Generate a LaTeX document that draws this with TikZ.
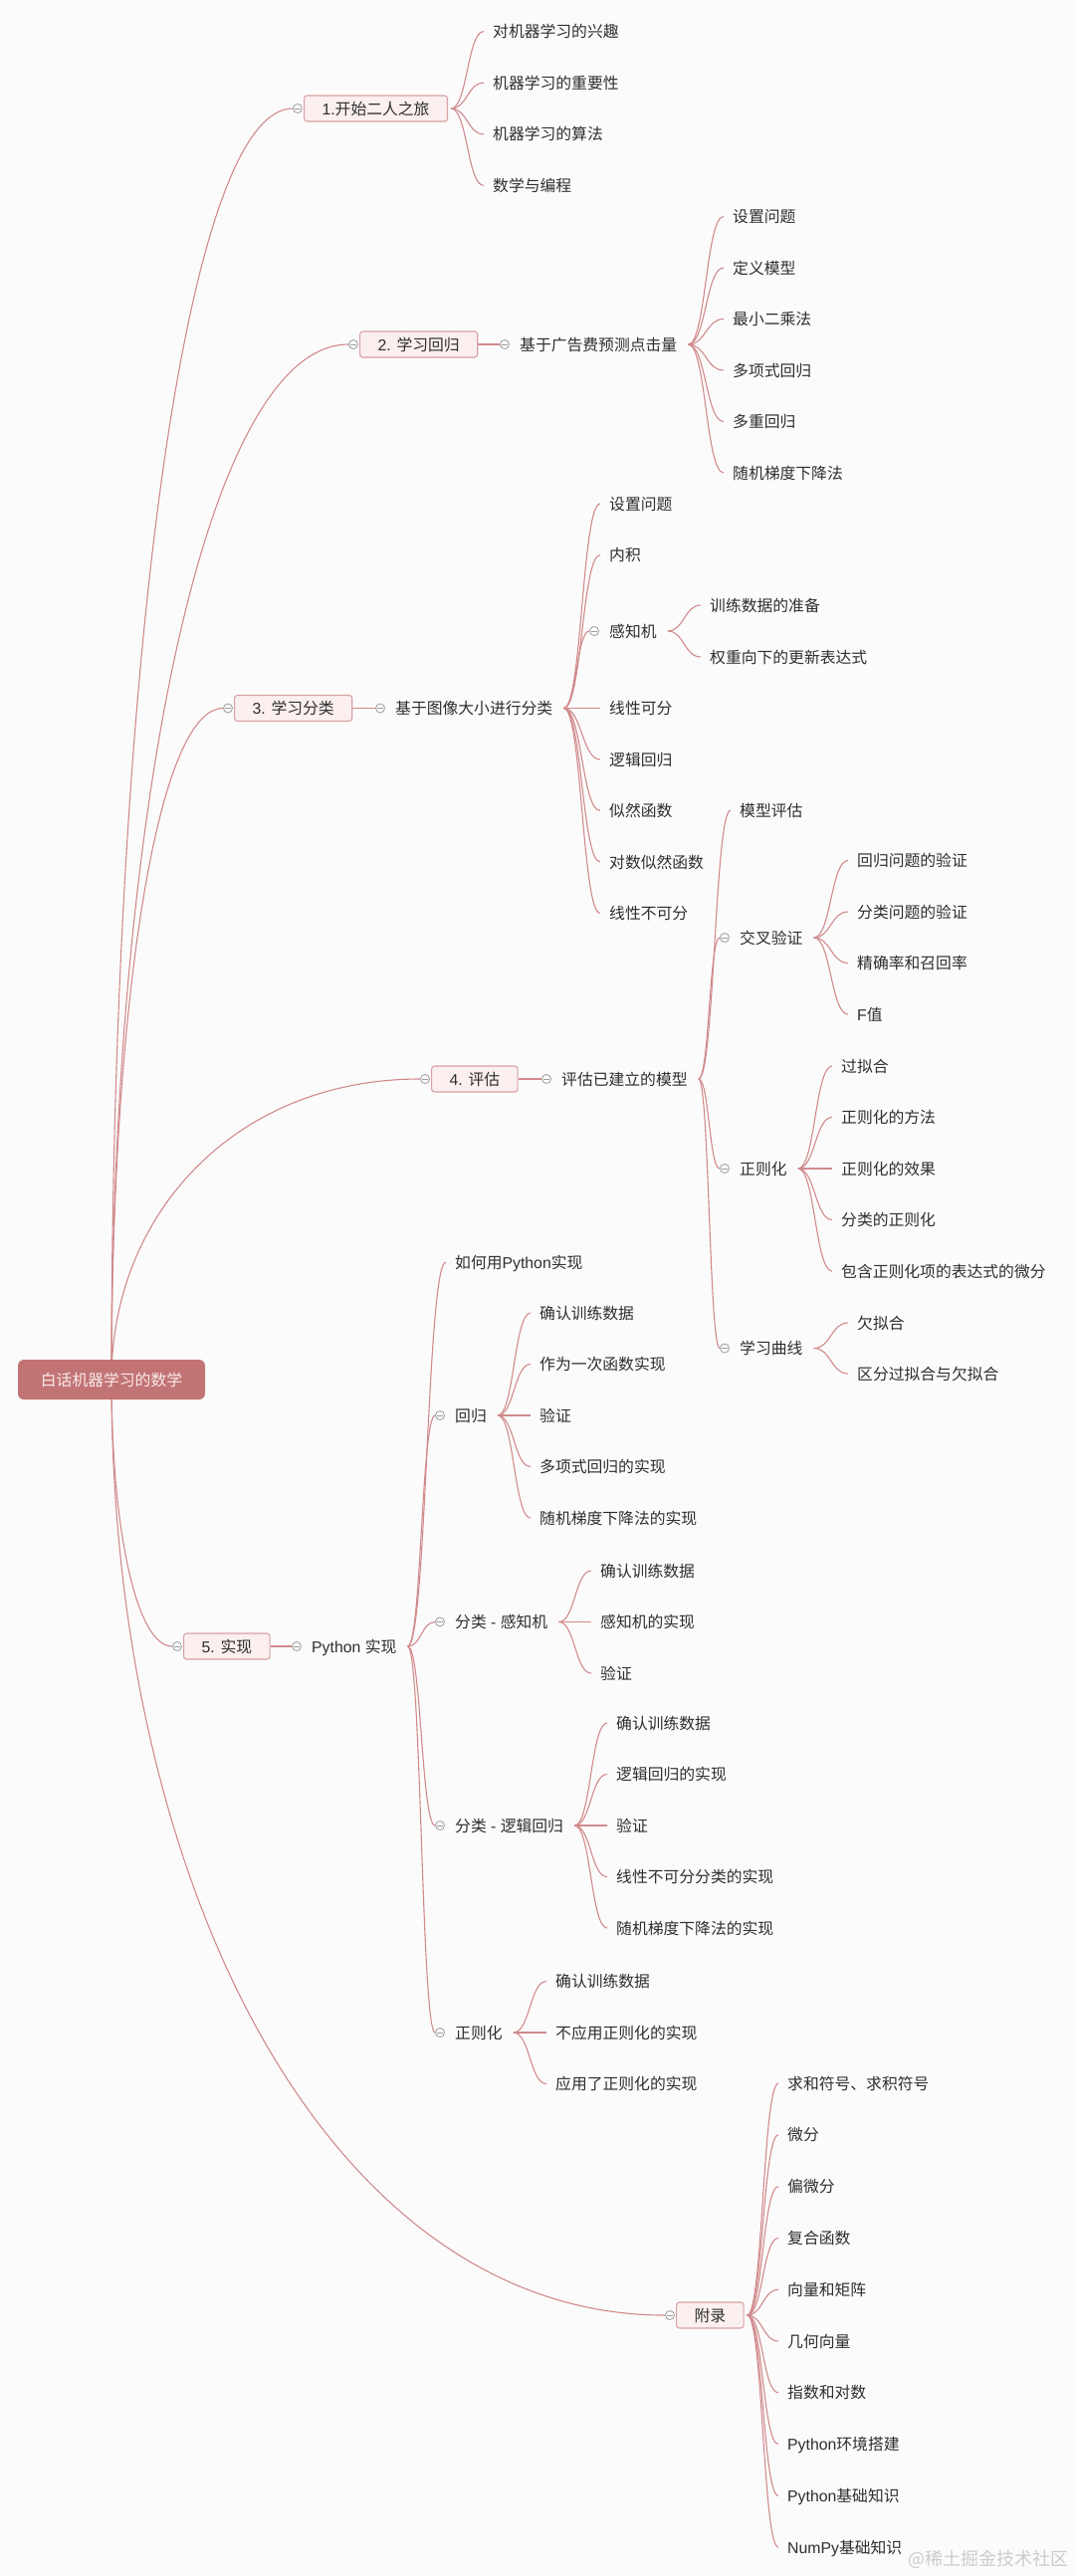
\documentclass[tikz,border=0pt]{standalone}
\usepackage{fontspec}
\setmainfont{Noto Sans CJK SC}
\newfontfamily\latf{Liberation Sans}
\newcommand\lat[1]{{\latf #1}}
\newcommand\fs{\fontsize{15.8pt}{18pt}\selectfont}
\usetikzlibrary{calc}
\definecolor{bgc}{HTML}{FCFBFB}
\definecolor{lc}{HTML}{D08A8C}
\definecolor{txt}{HTML}{2E2E2E}
\definecolor{bxd}{HTML}{D9A2A4}
\definecolor{bxf}{HTML}{FBEFEF}
\definecolor{rootf}{HTML}{C27474}
\definecolor{roott}{HTML}{FBEAEA}
\definecolor{btnc}{HTML}{9A9A9A}
\definecolor{wmc}{HTML}{CCCCCC}
\pgfdeclarelayer{back}\pgfdeclarelayer{wires}
\pgfsetlayers{back,wires,main}
\newcommand\lnk[2]{\begin{pgfonlayer}{wires}\draw[conn] let \p1=(#1), \p2=(#2), \n1={0.5*(\x2-\x1)} in (\p1) .. controls (\x1+\n1,\y1) and (\x2-\n1,\y2) .. (\p2);\end{pgfonlayer}}
\newcommand\rlnk[2]{\begin{pgfonlayer}{wires}\draw[conn] let \p1=(#1), \p2=(#2) in (\p1) .. controls (\x1,{\y1+0.55*(\y2-\y1)}) and ({\x2-0.6*(\x2-\x1)},\y2) .. (\p2);\end{pgfonlayer}}
\newcommand\tolf[2]{\lnk{#1}{$(#2.west)+(-9,0)$}}
\newcommand\tobt[2]{\lnk{#1}{b#2.west}}
\newcommand\bt[1]{\node[btn] (b#1) at ($(#1.west)+(-15,0)$) {};}
\newcommand\btm[1]{\node[btn] (b#1) at ($(#1.west)+(-6,0)$) {};}
\newcommand\sline[2]{\begin{pgfonlayer}{wires}\draw[conn] (#1.east) -- (b#2.west);\end{pgfonlayer}}
\begin{document}
\begin{tikzpicture}[x=1pt,y=-1pt,
  conn/.style={draw=lc, line width=1.1pt},
  leaf/.style={anchor=west, inner sep=0pt, text=txt, font=\fs, text height=13.9pt, text depth=1.9pt},
  mainbox/.style={anchor=west, draw=bxd, fill=bxf, rounded corners=3pt, line width=1.1pt, inner xsep=18pt, inner ysep=0pt, minimum height=26pt, text=txt, font=\fs, text height=13.9pt, text depth=1.9pt},
  rootbox/.style={fill=rootf, rounded corners=6pt, minimum width=188pt, minimum height=40pt, inner sep=0pt, text=roott, font=\fs, text height=13.9pt, text depth=1.9pt},
  btn/.style={circle, draw=btnc, fill=white, minimum size=9pt, inner sep=0pt, line width=0.8pt, path picture={\draw[btnc, line width=0.8pt] ($(path picture bounding box.center)+(-2.6,0)$) -- ($(path picture bounding box.center)+(2.6,0)$);}}
]
\useasboundingbox (0,0) rectangle (1080,2588);
\begin{pgfonlayer}{back}\fill[bgc] (0,0) rectangle (1080,2588);\end{pgfonlayer}

% root
\node[rootbox] (root) at (112,1386) {白话机器学习的数学};

% level 1
\node[mainbox] (m1) at (305,109) {\lat{1.}开始二人之旅};
\node[mainbox] (m2) at (361,346) {\lat{2. }学习回归};
\node[mainbox] (m3) at (235,711.5) {\lat{3. }学习分类};
\node[mainbox] (m4) at (433,1084) {\lat{4. }评估};
\node[mainbox] (m5) at (184,1654) {\lat{5. }实现};
\node[mainbox] (m6) at (679,2326) {附录};
\btm{m1}\btm{m2}\btm{m3}\btm{m4}\btm{m5}\btm{m6}
\rlnk{root.center}{bm1.west}
\rlnk{root.center}{bm2.west}
\rlnk{root.center}{bm3.west}
\rlnk{root.center}{bm4.west}
\rlnk{root.center}{bm5.west}
\rlnk{root.center}{bm6.west}

% group 1
\coordinate (f1) at ($(m1.east)+(3,0)$);
\node[leaf] (a1) at (495,31.6) {对机器学习的兴趣};
\node[leaf] (a2) at (495,83.2) {机器学习的重要性};
\node[leaf] (a3) at (495,134.8) {机器学习的算法};
\node[leaf] (a4) at (495,186.4) {数学与编程};
\tolf{f1}{a1}\tolf{f1}{a2}\tolf{f1}{a3}\tolf{f1}{a4}

% group 2
\node[leaf] (s2) at (522,346) {基于广告费预测点击量};
\bt{s2}\sline{m2}{s2}
\coordinate (f2) at ($(s2.east)+(11,0)$);
\node[leaf] (r1) at (736,217.5) {设置问题};
\node[leaf] (r2) at (736,269) {定义模型};
\node[leaf] (r3) at (736,320.5) {最小二乘法};
\node[leaf] (r4) at (736,372) {多项式回归};
\node[leaf] (r5) at (736,423.5) {多重回归};
\node[leaf] (r6) at (736,475) {随机梯度下降法};
\tolf{f2}{r1}\tolf{f2}{r2}\tolf{f2}{r3}\tolf{f2}{r4}\tolf{f2}{r5}\tolf{f2}{r6}

% group 3
\node[leaf] (s3) at (397,711.5) {基于图像大小进行分类};
\bt{s3}\sline{m3}{s3}
\coordinate (f3) at ($(s3.east)+(11,0)$);
\node[leaf] (c1) at (612,506) {设置问题};
\node[leaf] (c2) at (612,557.5) {内积};
\node[leaf] (c3) at (612,634) {感知机};
\node[leaf] (c4) at (612,711.5) {线性可分};
\node[leaf] (c5) at (612,763) {逻辑回归};
\node[leaf] (c6) at (612,814.5) {似然函数};
\node[leaf] (c7) at (612,866) {对数似然函数};
\node[leaf] (c8) at (612,917.5) {线性不可分};
\bt{c3}
\tolf{f3}{c1}\tolf{f3}{c2}\tobt{f3}{c3}\tolf{f3}{c4}\tolf{f3}{c5}\tolf{f3}{c6}\tolf{f3}{c7}\tolf{f3}{c8}
\coordinate (fc3) at ($(c3.east)+(11,0)$);
\node[leaf] (p1) at (713,608) {训练数据的准备};
\node[leaf] (p2) at (713,660) {权重向下的更新表达式};
\tolf{fc3}{p1}\tolf{fc3}{p2}

% group 4
\node[leaf] (s4) at (564,1084) {评估已建立的模型};
\bt{s4}\sline{m4}{s4}
\coordinate (f4) at ($(s4.east)+(11,0)$);
\node[leaf] (e1) at (743,814) {模型评估};
\node[leaf] (e2) at (743,942) {交叉验证};
\node[leaf] (e3) at (743,1174) {正则化};
\node[leaf] (e4) at (743,1354.5) {学习曲线};
\bt{e2}\bt{e3}\bt{e4}
\tolf{f4}{e1}\tobt{f4}{e2}\tobt{f4}{e3}\tobt{f4}{e4}
\coordinate (fe2) at ($(e2.east)+(11,0)$);
\node[leaf] (v1) at (861,864.5) {回归问题的验证};
\node[leaf] (v2) at (861,916) {分类问题的验证};
\node[leaf] (v3) at (861,967.5) {精确率和召回率};
\node[leaf] (v4) at (861,1019) {\lat{F}值};
\tolf{fe2}{v1}\tolf{fe2}{v2}\tolf{fe2}{v3}\tolf{fe2}{v4}
\coordinate (fe3) at ($(e3.east)+(11,0)$);
\node[leaf] (z1) at (845,1071) {过拟合};
\node[leaf] (z2) at (845,1122.5) {正则化的方法};
\node[leaf] (z3) at (845,1174) {正则化的效果};
\node[leaf] (z4) at (845,1225.5) {分类的正则化};
\node[leaf] (z5) at (845,1277) {包含正则化项的表达式的微分};
\tolf{fe3}{z1}\tolf{fe3}{z2}\tolf{fe3}{z3}\tolf{fe3}{z4}\tolf{fe3}{z5}
\coordinate (fe4) at ($(e4.east)+(11,0)$);
\node[leaf] (q1) at (861,1329) {欠拟合};
\node[leaf] (q2) at (861,1380) {区分过拟合与欠拟合};
\tolf{fe4}{q1}\tolf{fe4}{q2}

% group 5
\node[leaf] (s5) at (313,1654) {\lat{Python }实现};
\bt{s5}\sline{m5}{s5}
\coordinate (f5) at ($(s5.east)+(11,0)$);
\node[leaf] (h1) at (457,1268) {如何用\lat{Python}实现};
\node[leaf] (h2) at (457,1422) {回归};
\node[leaf] (h3) at (457,1629.5) {分类\lat{~-~}感知机};
\node[leaf] (h4) at (457,1834) {分类\lat{~-~}逻辑回归};
\node[leaf] (h5) at (457,2042) {正则化};
\bt{h2}\bt{h3}\bt{h4}\bt{h5}
\tolf{f5}{h1}\tobt{f5}{h2}\tobt{f5}{h3}\tobt{f5}{h4}\tobt{f5}{h5}
\coordinate (fh2) at ($(h2.east)+(11,0)$);
\node[leaf] (k1) at (542,1319) {确认训练数据};
\node[leaf] (k2) at (542,1370.5) {作为一次函数实现};
\node[leaf] (k3) at (542,1422) {验证};
\node[leaf] (k4) at (542,1473.5) {多项式回归的实现};
\node[leaf] (k5) at (542,1525) {随机梯度下降法的实现};
\tolf{fh2}{k1}\tolf{fh2}{k2}\tolf{fh2}{k3}\tolf{fh2}{k4}\tolf{fh2}{k5}
\coordinate (fh3) at ($(h3.east)+(11,0)$);
\node[leaf] (g1) at (603,1578) {确认训练数据};
\node[leaf] (g2) at (603,1629.5) {感知机的实现};
\node[leaf] (g3) at (603,1681) {验证};
\tolf{fh3}{g1}\tolf{fh3}{g2}\tolf{fh3}{g3}
\coordinate (fh4) at ($(h4.east)+(11,0)$);
\node[leaf] (l1) at (619,1731) {确认训练数据};
\node[leaf] (l2) at (619,1782.5) {逻辑回归的实现};
\node[leaf] (l3) at (619,1834) {验证};
\node[leaf] (l4) at (619,1885.5) {线性不可分分类的实现};
\node[leaf] (l5) at (619,1937) {随机梯度下降法的实现};
\tolf{fh4}{l1}\tolf{fh4}{l2}\tolf{fh4}{l3}\tolf{fh4}{l4}\tolf{fh4}{l5}
\coordinate (fh5) at ($(h5.east)+(11,0)$);
\node[leaf] (j1) at (558,1990.5) {确认训练数据};
\node[leaf] (j2) at (558,2042) {不应用正则化的实现};
\node[leaf] (j3) at (558,2093.5) {应用了正则化的实现};
\tolf{fh5}{j1}\tolf{fh5}{j2}\tolf{fh5}{j3}

% group 6
\coordinate (f6) at ($(m6.east)+(3,0)$);
\node[leaf] (x1) at (791,2093) {求和符号、求积符号};
\node[leaf] (x2) at (791,2144.8) {微分};
\node[leaf] (x3) at (791,2196.6) {偏微分};
\node[leaf] (x4) at (791,2248.4) {复合函数};
\node[leaf] (x5) at (791,2300.2) {向量和矩阵};
\node[leaf] (x6) at (791,2352) {几何向量};
\node[leaf] (x7) at (791,2403.8) {指数和对数};
\node[leaf] (x8) at (791,2455.6) {\lat{Python}环境搭建};
\node[leaf] (x9) at (791,2507.4) {\lat{Python}基础知识};
\node[leaf] (x10) at (791,2559.2) {\lat{NumPy}基础知识};
\tolf{f6}{x1}\tolf{f6}{x2}\tolf{f6}{x3}\tolf{f6}{x4}\tolf{f6}{x5}
\tolf{f6}{x6}\tolf{f6}{x7}\tolf{f6}{x8}\tolf{f6}{x9}\tolf{f6}{x10}

% watermark
\node[anchor=east, inner sep=0pt, text=wmc, font=\fontsize{18pt}{20pt}\selectfont] (wm) at (1074,2571) {@稀土掘金技术社区};
\end{tikzpicture}
\end{document}
